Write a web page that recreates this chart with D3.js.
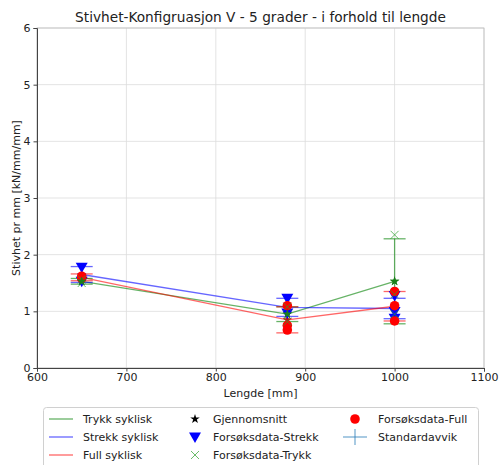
<!DOCTYPE html>
<meta charset="utf-8">
<title>Stivhet V - 5 grader</title>
<style>
  body { margin: 0; background: #fff; }
  text { font-family: "DejaVu Sans", sans-serif; }
</style>
<body>
<script src="https://cdn.jsdelivr.net/npm/d3@7"></script>
<script>
const width = 499, height = 465;
const margin = {top: 28, right: 15, bottom: 97, left: 37};

// lengths tested
const lengths = [650, 880, 1000];
// mean stiffness per series
const trykkMean = [1.53, 0.95, 1.53];
const strekkMean = [1.65, 1.07, 1.05];
const fullMean = [1.60, 0.85, 1.09];
// standard deviations
const trykkStd = [0.05, 0.13, 0.75];
const strekkStd = [0.14, 0.16, 0.18];
const fullStd = [0.06, 0.23, 0.26];
// raw test data, one array per length
const trykkData = [[1.50, 1.56], [1.08, 0.82], [2.35, 1.30, 0.95]];
const strekkData = [[1.78, 1.53], [1.23, 0.97], [1.28, 1.00, 0.88]];
const fullData = [[1.62, 1.58], [1.10, 0.75, 0.67], [1.35, 1.10, 0.83]];

const xTicks = [600, 700, 800, 900, 1000, 1100];
const yTicks = [0, 1, 2, 3, 4, 5, 6];

const svg = d3.select("body").append("svg")
  .attr("width", width).attr("height", height);

const x = d3.scaleLinear().domain([600, 1100]).range([margin.left, width - margin.right]);
const y = d3.scaleLinear().domain([0, 6]).range([height - margin.bottom, margin.top]);

// grid
svg.append("g").selectAll("line").data(xTicks).enter().append("line")
  .attr("x1", d => x(d)).attr("x2", d => x(d))
  .attr("y1", y(0)).attr("y2", y(6))
  .attr("stroke", "#dcdcdc").attr("stroke-width", 0.8);
svg.append("g").selectAll("line").data(yTicks).enter().append("line")
  .attr("x1", x(600)).attr("x2", x(1100))
  .attr("y1", d => y(d)).attr("y2", d => y(d))
  .attr("stroke", "#dcdcdc").attr("stroke-width", 0.8);

// frame
svg.append("rect")
  .attr("x", x(600)).attr("y", y(6))
  .attr("width", x(1100) - x(600)).attr("height", y(0) - y(6))
  .attr("fill", "none").attr("stroke", "#bdbdbd").attr("stroke-width", 0.8);

// axes
const xAxis = svg.append("g")
  .attr("transform", `translate(0,${y(0)})`)
  .call(d3.axisBottom(x).tickValues(xTicks).tickSize(3.5).tickFormat(d3.format("d")));
const yAxis = svg.append("g")
  .attr("transform", `translate(${x(600)},0)`)
  .call(d3.axisLeft(y).tickValues(yTicks).tickSize(3.5).tickFormat(d3.format("d")));
[xAxis, yAxis].forEach(a => {
  a.selectAll("text").attr("font-size", 11).attr("fill", "#222");
  a.select(".domain").attr("stroke", "#444");
  a.selectAll(".tick line").attr("stroke", "#444");
});
xAxis.selectAll("text").attr("dy", "0.6em");

// titles
svg.append("text").attr("x", (x(600) + x(1100)) / 2).attr("y", 22)
  .attr("text-anchor", "middle").attr("font-size", 13.7).attr("fill", "#222")
  .text("Stivhet-Konfigruasjon V - 5 grader - i forhold til lengde");
svg.append("text").attr("x", (x(600) + x(1100)) / 2).attr("y", 397)
  .attr("text-anchor", "middle").attr("font-size", 11).attr("fill", "#222")
  .text("Lengde [mm]");
svg.append("text")
  .attr("transform", `translate(20,${(y(0) + y(6)) / 2}) rotate(-90)`)
  .attr("text-anchor", "middle").attr("font-size", 11).attr("fill", "#222")
  .text("Stivhet pr mm [kN/mm/mm]");

const blue = "#0000ff", red = "#ff0000";
const greenL = "rgba(0,128,0,0.6)", blueL = "rgba(0,0,255,0.6)", redL = "rgba(255,0,0,0.6)";

const line = d3.line().x(d => x(d[0])).y(d => y(d[1]));
const series = [
  {mean: trykkMean, std: trykkStd, col: greenL},
  {mean: strekkMean, std: strekkStd, col: blueL},
  {mean: fullMean, std: fullStd, col: redL}
];

// mean lines
series.forEach(s => {
  svg.append("path").datum(lengths.map((l, i) => [l, s.mean[i]]))
    .attr("d", line).attr("fill", "none")
    .attr("stroke", s.col).attr("stroke-width", 1.3);
});

// error bars
const cap = 11;
series.forEach(s => {
  const g = svg.append("g").attr("stroke", s.col).attr("stroke-width", 1.3);
  lengths.forEach((l, i) => {
    const lo = y(s.mean[i] - s.std[i]), hi = y(s.mean[i] + s.std[i]);
    g.append("line").attr("x1", x(l)).attr("x2", x(l)).attr("y1", lo).attr("y2", hi);
    g.append("line").attr("x1", x(l) - cap).attr("x2", x(l) + cap).attr("y1", lo).attr("y2", lo);
    g.append("line").attr("x1", x(l) - cap).attr("x2", x(l) + cap).attr("y1", hi).attr("y2", hi);
  });
});

const tri = d3.symbol().type(d3.symbolTriangle).size(62)();
const circ = d3.symbol().type(d3.symbolCircle).size(72)();
const star = d3.symbol().type(d3.symbolStar).size(28)();
const xmark = "M-4,-4L4,4M-4,4L4,-4";

// means (stars)
series.forEach((s, k) => {
  lengths.forEach((l, i) => {
    svg.append("path").attr("d", star)
      .attr("transform", `translate(${x(l)},${y(s.mean[i])})`)
      .attr("fill", k === 0 ? "#1a7f1a" : (k === 1 ? "#1a1aa0" : "#c01010"));
  });
});
// strekk data
lengths.forEach((l, i) => {
  strekkData[i].forEach(v => {
    svg.append("path").attr("d", tri)
      .attr("transform", `translate(${x(l)},${y(v) - 1}) rotate(180)`).attr("fill", blue);
  });
});
// full data
lengths.forEach((l, i) => {
  fullData[i].forEach(v => {
    svg.append("path").attr("d", circ)
      .attr("transform", `translate(${x(l)},${y(v)})`).attr("fill", red);
  });
});
// trykk data
lengths.forEach((l, i) => {
  trykkData[i].forEach(v => {
    svg.append("path").attr("d", xmark)
      .attr("transform", `translate(${x(l)},${y(v)})`)
      .attr("stroke", "rgba(44,160,44,0.7)").attr("stroke-width", 1).attr("fill", "none");
  });
});
// green mean star stays on top
lengths.forEach((l, i) => {
  svg.append("path").attr("d", star)
    .attr("transform", `translate(${x(l)},${y(trykkMean[i])})`).attr("fill", "#1a7f1a");
});

// legend
const lg = svg.append("g");
lg.append("rect").attr("x", 43.5).attr("y", 407.5).attr("width", 435).attr("height", 62)
  .attr("rx", 3).attr("fill", "#fff").attr("stroke", "#d0d0d0");
const rows = [419, 437, 455];
const col1 = [["Trykk syklisk", greenL], ["Strekk syklisk", blueL], ["Full syklisk", redL]];
col1.forEach((d, i) => {
  lg.append("line").attr("x1", 49).attr("x2", 73).attr("y1", rows[i]).attr("y2", rows[i])
    .attr("stroke", d[1]).attr("stroke-width", 1.3);
  lg.append("text").attr("x", 83).attr("y", rows[i] + 4).attr("font-size", 11).attr("fill", "#222").text(d[0]);
});
const col2 = ["Gjennomsnitt", "Forsøksdata-Strekk", "Forsøksdata-Trykk"];
col2.forEach((t, i) => {
  lg.append("text").attr("x", 213).attr("y", rows[i] + 4).attr("font-size", 11).attr("fill", "#222").text(t);
});
lg.append("path").attr("d", star).attr("transform", `translate(195,${rows[0]})`).attr("fill", "#000");
lg.append("path").attr("d", tri).attr("transform", `translate(195,${rows[1] - 1}) rotate(180)`).attr("fill", blue);
lg.append("path").attr("d", xmark).attr("transform", `translate(195,${rows[2]})`)
  .attr("stroke", "rgba(44,160,44,0.7)").attr("fill", "none");
const col3 = ["Forsøksdata-Full", "Standardavvik"];
col3.forEach((t, i) => {
  lg.append("text").attr("x", 378).attr("y", rows[i] + 4).attr("font-size", 11).attr("fill", "#222").text(t);
});
lg.append("path").attr("d", circ).attr("transform", `translate(355,${rows[0]})`).attr("fill", red);
lg.append("line").attr("x1", 343).attr("x2", 367).attr("y1", rows[1]).attr("y2", rows[1])
  .attr("stroke", "rgba(31,119,180,0.6)").attr("stroke-width", 1.3);
lg.append("line").attr("x1", 355).attr("x2", 355).attr("y1", rows[1] - 8).attr("y2", rows[1] + 8)
  .attr("stroke", "rgba(31,119,180,0.6)").attr("stroke-width", 1.3);
</script>
</body>
